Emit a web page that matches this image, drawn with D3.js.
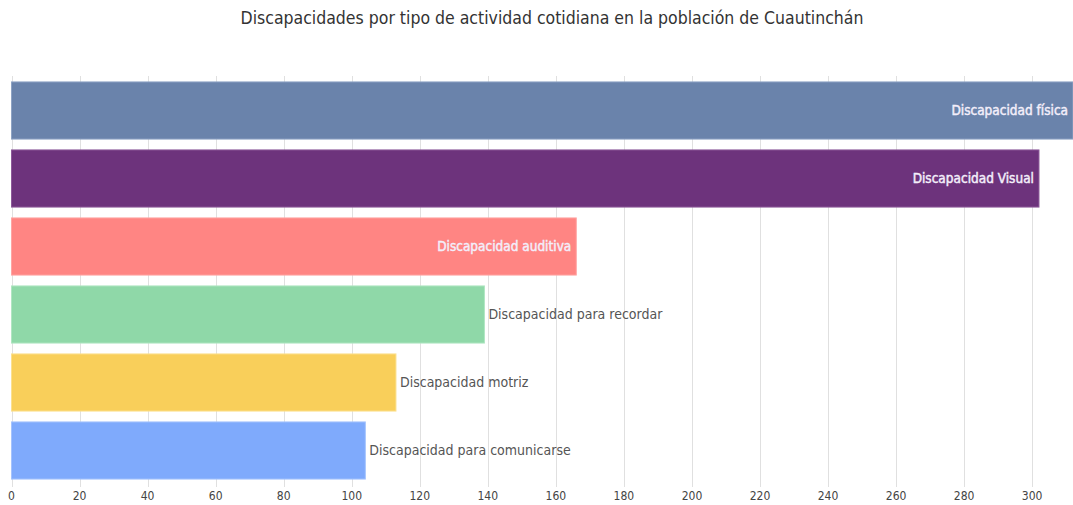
<!DOCTYPE html>
<html><head><meta charset="utf-8">
<script src="https://cdn.jsdelivr.net/npm/d3@7"></script>
<style>
body{margin:0;background:#fff;}
svg{display:block;font-family:"DejaVu Sans Condensed","Liberation Sans Narrow","Roboto",sans-serif;}
</style></head><body>
<svg id="c" width="1073" height="505"></svg>
<script>
const categories = ["Discapacidad física","Discapacidad Visual","Discapacidad auditiva","Discapacidad para recordar","Discapacidad motriz","Discapacidad para comunicarse"];
const values = [312, 302, 166, 139, 113, 104];
const colors = ["#6a83ab","#6d337c","#ff8583","#8fd8a8","#f9cf5a","#7faafc"];
const strokes = ["#8ea3c4","#8d5a9a","#ffa5a3","#b0e6c2","#fbe08f","#a5c3fd"];
const insideLabel = [true, true, true, false, false, false];
const ticks = [0,20,40,60,80,100,120,140,160,180,200,220,240,260,280,300];
const title = "Discapacidades por tipo de actividad cotidiana en la población de Cuautinchán";

const svg = d3.select("#c");
const x = d3.scaleLinear().domain([0, 312]).range([11.5, 1073]);
const y = d3.scaleBand().domain(categories).range([76.5, 484.5]).paddingInner(0.16).paddingOuter(0.08);

svg.append("text").attr("x", 552).attr("y", 24).attr("text-anchor","middle")
  .attr("font-size", 17.5).attr("fill","#333").text(title);

const grid = svg.append("g");
grid.selectAll("line").data(ticks).join("line")
  .attr("x1", d=>Math.round(x(d))+0.5).attr("x2", d=>Math.round(x(d))+0.5)
  .attr("y1", 76).attr("y2", 487).attr("stroke","#e0e0e0").attr("stroke-width",1);

svg.append("g").selectAll("text").data(ticks).join("text")
  .attr("x", d=>x(d)).attr("y", 500).attr("text-anchor","middle")
  .attr("font-size", 12).attr("fill","#444").text(d=>d);

const bars = svg.append("g");
bars.selectAll("rect").data(values).join("rect")
  .attr("x", x(0)).attr("y", (d,i)=>y(categories[i]))
  .attr("width", d=>x(d)-x(0)).attr("height", y.bandwidth())
  .attr("fill", (d,i)=>colors[i]).attr("stroke",(d,i)=>strokes[i]).attr("stroke-width",1);

svg.append("g").selectAll("text").data(values).join("text")
  .attr("x", (d,i)=> insideLabel[i] ? Math.min(x(d), 1073) - 5 : x(d) + 4)
  .attr("y", (d,i)=>y(categories[i]) + y.bandwidth()/2)
  .attr("dy","0.35em")
  .attr("text-anchor", (d,i)=> insideLabel[i] ? "end" : "start")
  .attr("font-size", (d,i)=> insideLabel[i] ? 13.5 : 14)
  .attr("stroke", (d,i)=> insideLabel[i] ? "#f3eefa" : "none")
  .attr("stroke-width", 0.45)
  .attr("fill", (d,i)=> insideLabel[i] ? "#f3eefa" : "#555")
  .text((d,i)=>categories[i]);
</script>
</body></html>
